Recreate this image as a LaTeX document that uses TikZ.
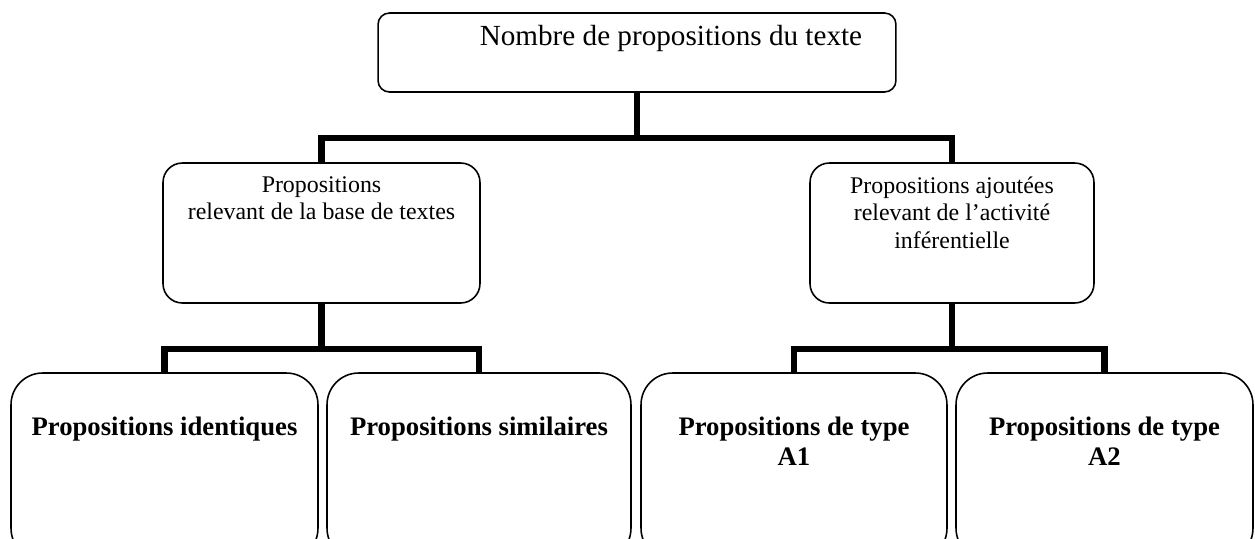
\documentclass[tikz,border=0pt]{standalone}
\usepackage{fontspec}
\setmainfont{Liberation Serif}
\usepackage{tikz}
\usetikzlibrary{calc,positioning}
\newcommand{\boxtxt}[4]{\parbox[c][#2][t]{#1}{\centering\vspace*{#3}#4}}

\begin{document}
\begin{tikzpicture}[x=0.02cm,y=-0.02cm,
    box/.style={draw,line width=0.9pt,inner sep=0pt,rounded corners=#1},
    conn/.style={line width=3.6pt}]
    \path[use as bounding box] (0,0) rectangle (1255,538);
    \clip (0,0) rectangle (1255,538);

    \node[box=6.5pt] (0) at (637,52.5) {
      \boxtxt{10.36cm}{1.58cm}{0.24cm}{\fontsize{16.6}{19.5}\selectfont
      \hspace*{1.36cm}Nombre de propositions du texte}
    };

    \node[box=11pt] (1) at (321.5,233) {
      \boxtxt{6.34cm}{2.8cm}{0.275cm}{\fontsize{13.6}{15.6}\selectfont
      Propositions\\ relevant de la base de textes}
    };
    \node[box=11pt] (2) at (952,233) {
      \boxtxt{5.68cm}{2.8cm}{0.275cm}{\fontsize{13.6}{15.6}\selectfont
      Propositions ajoutées\\ relevant de l’activité\\ inférentielle}
    };

    \node[box=18pt] (11) at (164.5,466.5) {
      \boxtxt{6.14cm}{3.74cm}{0.88cm}{\fontsize{15.2}{17.1}\selectfont\bfseries
      Propositions identiques}
    };
    \node[box=18pt] (12) at (479,466.5) {
      \boxtxt{6.08cm}{3.74cm}{0.88cm}{\fontsize{15.2}{17.1}\selectfont\bfseries
      Propositions similaires}
    };
    \node[box=18pt] (21) at (794,466.5) {
      \boxtxt{6.12cm}{3.74cm}{0.88cm}{\fontsize{15.2}{17.1}\selectfont\bfseries
      Propositions de type\\ A1}
    };
    \node[box=18pt] (22) at (1104.5,466.5) {
      \boxtxt{5.94cm}{3.74cm}{0.88cm}{\fontsize{15.2}{17.1}\selectfont\bfseries
      Propositions de type\\ A2}
    };

    % junctions
    \coordinate (j0) at (637,138);
    \coordinate (j1) at (321.5,349);
    \coordinate (j2) at (952,349);

    \draw[conn] (0.south) -- (j0);
    \draw[conn] (1.north) |- (j0) -| (2.north);
    \draw[conn] (1.south) -- (j1);
    \draw[conn] (11.north) |- (j1) -| (12.north);
    \draw[conn] (2.south) -- (j2);
    \draw[conn] (21.north) |- (j2) -| (22.north);
  \end{tikzpicture}
\end{document}
